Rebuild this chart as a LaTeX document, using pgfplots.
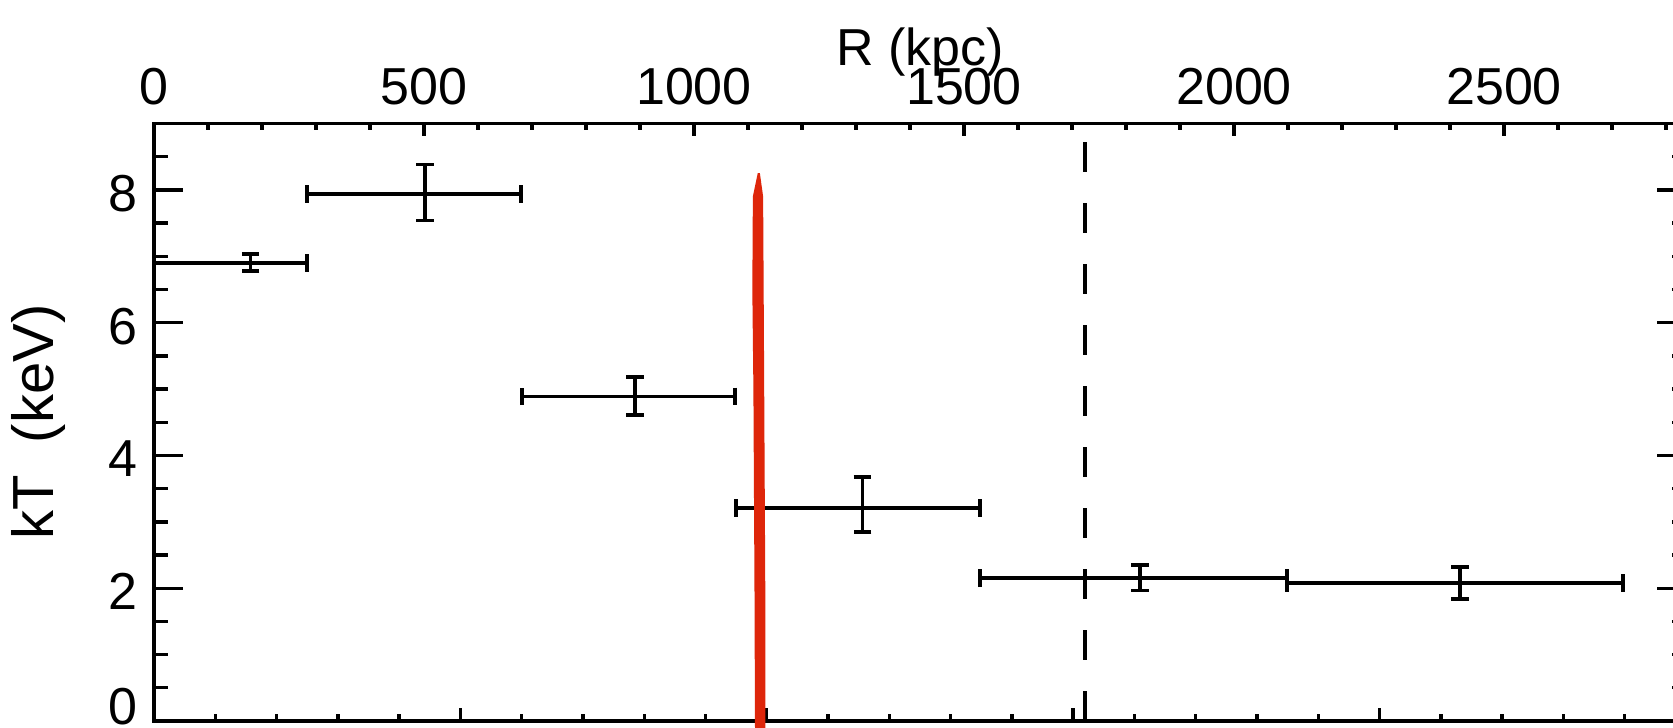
\documentclass[border=0pt]{standalone}
\usepackage{fontspec}
\setmainfont{Liberation Sans}
\usepackage{pgfplots}
\pgfplotsset{compat=1.18}
\usepackage{pgfplotstable}
\definecolor{sketchred}{RGB}{222,38,10}

\pgfplotstableread{
x y xm xp ym yp
179 6.90 179 104 0.12 0.13
502 7.94 219 178 0.40 0.44
891 4.89 210 185 0.28 0.29
1312 3.21 234 218 0.36 0.465
1826 2.15 296 272 0.185 0.20
2419 2.08 321 301 0.24 0.24
}\datatable

\pgfplotsset{
  common/.style={
    width=383pt, height=149.4pt, scale only axis,
    at={(0,0)}, anchor=south west,
    xmin=0, xmax=2837, ymin=0, ymax=9,
    axis line style={line width=0.95pt, black},
    tick style={line width=0.85pt, black},
    tick align=inside,
    /pgf/number format/assume math mode=true,
    /pgf/number format/1000 sep={},
  }
}

\begin{document}
\begin{tikzpicture}
% bottom axis ticks (secondary scale, labels cropped away)
\begin{axis}[common,
  xmin=0, xmax=5,
  ytick=\empty,
  xtick={0,1,2,3,4,5},
  minor xtick={0,0.2,...,5},
  xtick pos=left,
  xticklabel=\empty,
  major tick length=3.25pt, minor tick length=1.75pt,
]
\end{axis}
% top axis ticks and labels (kpc)
\begin{axis}[common,
  ytick=\empty,
  xtick={0,500,...,2500},
  minor xtick={0,100,...,2800},
  xtick pos=right,
  xticklabel pos=right,
  major tick length=3.25pt, minor tick length=1.75pt,
  xticklabel style={font=\fontsize{13}{15}\selectfont, yshift=1pt},
  xlabel={R (kpc)},
  xlabel style={font=\fontsize{13}{15}\selectfont, at={(axis description cs:0.5,1)}, anchor=base, yshift=14.5pt},
]
\end{axis}
% main axis with y ticks and data
\begin{axis}[common,
  clip=false,
  xtick=\empty,
  ytick={2,4,6,8},
  minor ytick={0,0.5,...,9},
  extra y ticks={0},
  extra y tick style={yticklabel style={yshift=4.5pt}},
  yticklabel pos=left,
  major tick length=7.25pt, minor tick length=3.5pt,
  yticklabel style={font=\fontsize{13}{15}\selectfont, yshift=-0.9pt, xshift=-0.5pt},
  ylabel={kT~~(keV)},
  ylabel style={font=\fontsize{14.5}{16}\selectfont, at={([xshift=-29pt]axis description cs:0,0.5)}, anchor=center},
]
\addplot[draw=none, mark=none, forget plot,
  error bars/.cd, x dir=both, x explicit, y dir=both, y explicit,
  error mark=-,
  error bar style={draw=black, solid, line width=0.9pt},
  error mark options={draw=black, solid, rotate=90, line width=0.9pt, mark size=2.2pt}]
  table[x=x, y=y, x error plus=xp, x error minus=xm, y error plus=yp, y error minus=ym] {\datatable};
\addplot[black, line width=0.85pt, dash pattern=on 7.5pt off 7.75pt, forget plot]
  coordinates {(1724,0) (1724,9)};
\addplot[fill=sketchred, draw=none, forget plot]
  coordinates {(1118,8.25) (1122,8.25) (1128,7.9) (1129,6.5) (1130,5) (1131,3.5) (1132,2) (1132,-0.2)
               (1113,-0.2) (1112,2) (1111,3.5) (1110,5) (1108,6.5) (1109,7.9)} -- cycle;
\end{axis}
\pgfresetboundingbox
\path[use as bounding box] (-38.5pt,-1.75pt) rectangle (379.75pt,180.25pt);
\end{tikzpicture}
\end{document}
